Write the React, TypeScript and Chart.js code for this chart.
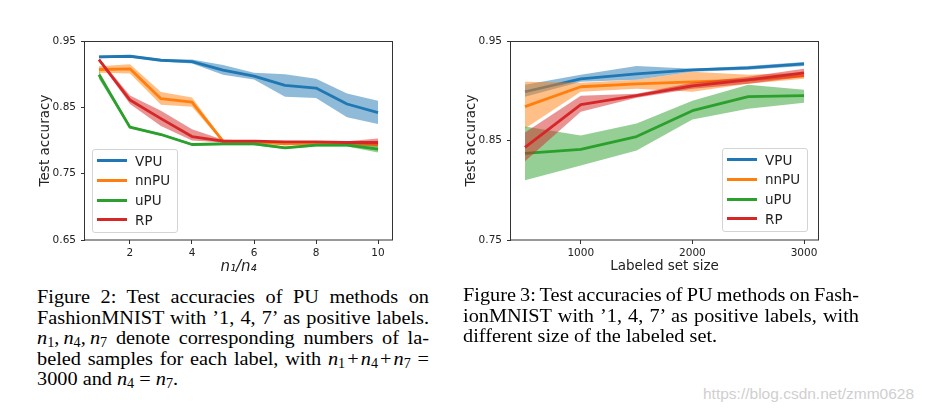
import React, { useEffect, useRef } from "react";
import { Chart, registerables } from "chart.js";
Chart.register(...registerables);

// ---------- shared series info ----------
const seriesNames = ["VPU", "nnPU", "uPU", "RP"];
const seriesColors = ["#1f77b4", "#ff7f0e", "#2ca02c", "#d62728"];
const bandColors = [
  "rgba(31,119,180,0.5)",
  "rgba(255,127,14,0.5)",
  "rgba(44,160,44,0.5)",
  "rgba(214,39,40,0.5)",
];

// ---------- Figure 2: accuracy vs n1/n4 ----------
const ratioX = [1, 2, 3, 4, 5, 6, 7, 8, 9, 10];
const ratioTicks = [2, 4, 6, 8, 10];
const ratioYTicks = [0.65, 0.75, 0.85, 0.95];

const vpuRatioMean = [0.926, 0.927, 0.921, 0.919, 0.906, 0.897, 0.883, 0.879, 0.855, 0.842];
const vpuRatioHigh = [0.928, 0.929, 0.923, 0.922, 0.914, 0.902, 0.900, 0.893, 0.871, 0.860];
const vpuRatioLow = [0.924, 0.925, 0.919, 0.916, 0.899, 0.892, 0.866, 0.864, 0.835, 0.825];

const nnpuRatioMean = [0.907, 0.908, 0.863, 0.858, 0.799, 0.798, 0.795, 0.796, 0.795, 0.794];
const nnpuRatioHigh = [0.912, 0.915, 0.873, 0.865, 0.801, 0.800, 0.797, 0.798, 0.798, 0.798];
const nnpuRatioLow = [0.902, 0.901, 0.854, 0.851, 0.797, 0.796, 0.793, 0.794, 0.792, 0.790];

const upuRatioMean = [0.899, 0.820, 0.809, 0.794, 0.795, 0.795, 0.789, 0.793, 0.793, 0.787];
const upuRatioHigh = [0.905, 0.822, 0.811, 0.796, 0.797, 0.797, 0.791, 0.795, 0.795, 0.792];
const upuRatioLow = [0.893, 0.818, 0.807, 0.792, 0.793, 0.793, 0.787, 0.791, 0.791, 0.782];

const rpRatioMean = [0.922, 0.861, 0.833, 0.806, 0.799, 0.799, 0.798, 0.798, 0.797, 0.797];
const rpRatioHigh = [0.924, 0.868, 0.845, 0.817, 0.801, 0.800, 0.799, 0.799, 0.799, 0.803];
const rpRatioLow = [0.920, 0.855, 0.822, 0.800, 0.797, 0.798, 0.797, 0.797, 0.795, 0.792];

// ---------- Figure 3: accuracy vs labeled set size ----------
const sizeX = [500, 1000, 1500, 2000, 2500, 3000];
const sizeTicks = [1000, 2000, 3000];
const sizeYTicks = [0.75, 0.85, 0.95];

const vpuSizeMean = [0.899, 0.912, 0.917, 0.921, 0.923, 0.927];
const vpuSizeHigh = [0.906, 0.916, 0.925, 0.922, 0.925, 0.929];
const vpuSizeLow = [0.894, 0.909, 0.911, 0.919, 0.921, 0.925];

const nnpuSizeMean = [0.884, 0.904, 0.907, 0.909, 0.911, 0.915];
const nnpuSizeHigh = [0.909, 0.908, 0.911, 0.919, 0.916, 0.918];
const nnpuSizeLow = [0.862, 0.899, 0.902, 0.899, 0.907, 0.912];

const upuSizeMean = [0.837, 0.841, 0.854, 0.880, 0.894, 0.895];
const upuSizeHigh = [0.864, 0.855, 0.867, 0.890, 0.906, 0.901];
const upuSizeLow = [0.810, 0.825, 0.840, 0.871, 0.882, 0.888];

const rpSizeMean = [0.843, 0.886, 0.895, 0.905, 0.911, 0.918];
const rpSizeHigh = [0.858, 0.895, 0.897, 0.908, 0.914, 0.922];
const rpSizeLow = [0.829, 0.879, 0.893, 0.902, 0.907, 0.914];

// ---------- helpers ----------
function buildDatasets(xs: number[], means: number[][], highs: number[][], lows: number[][]) {
  const ds: any[] = [];
  means.forEach((mean, s) => {
    const base = 100 - s * 10;
    ds.push({
      label: seriesNames[s] + " upper",
      data: xs.map((x, i) => ({ x, y: highs[s][i] })),
      borderColor: "transparent",
      borderWidth: 0,
      pointRadius: 0,
      fill: false,
      order: base + 1,
    });
    ds.push({
      label: seriesNames[s] + " lower",
      data: xs.map((x, i) => ({ x, y: lows[s][i] })),
      borderColor: "transparent",
      borderWidth: 0,
      pointRadius: 0,
      fill: "-1",
      backgroundColor: bandColors[s],
      order: base - 1,
    });
    ds.push({
      label: seriesNames[s],
      data: xs.map((x, i) => ({ x, y: mean[i] })),
      borderColor: seriesColors[s],
      borderWidth: 2.8,
      pointRadius: 0,
      fill: false,
      tension: 0,
      borderJoinStyle: "round",
      borderCapStyle: "butt",
      order: base,
    });
  });
  return ds;
}

const framePlugin = {
  id: "frame",
  afterDraw(chart: any) {
    const { ctx, chartArea } = chart;
    const { left, top, right, bottom } = chartArea;
    ctx.save();
    ctx.strokeStyle = "#333";
    ctx.lineWidth = 1;
    ctx.strokeRect(Math.round(left) - 0.5, Math.round(top) + 0.5, Math.round(right - left) + 1, Math.round(bottom - top) - 0.5);
    ctx.restore();
  },
};

const tickFont = { family: "'DejaVu Sans', sans-serif", size: 10.5 };
const titleFont = { family: "'DejaVu Sans', sans-serif", size: 13.5 };

function makeConfig(opts: {
  xs: number[];
  means: number[][];
  highs: number[][];
  lows: number[][];
  xMin: number;
  xMax: number;
  xTicks: number[];
  yMin: number;
  yMax: number;
  yTicks: number[];
  xTitle: string;
  xItalic: boolean;
  yWidth: number;
  yTitlePad: number;
  padRight: number;
}) {
  return {
    type: "line",
    data: { datasets: buildDatasets(opts.xs, opts.means, opts.highs, opts.lows) },
    options: {
      animation: false,
      responsive: false,
      devicePixelRatio: 1,
      events: [],
      layout: { padding: { left: 0, right: opts.padRight, top: 41, bottom: 0 } },
      plugins: { legend: { display: false }, tooltip: { enabled: false } },
      scales: {
        x: {
          type: "linear",
          min: opts.xMin,
          max: opts.xMax,
          afterBuildTicks: (s: any) => {
            s.ticks = opts.xTicks.map((v) => ({ value: v }));
          },
          afterFit: (s: any) => {
            s.height = 45;
          },
          grid: { display: true, drawOnChartArea: false, drawTicks: true, tickLength: 4, tickColor: "#333", color: "#333" },
          border: { display: false },
          ticks: {
            font: tickFont,
            color: "#222",
            padding: 3,
            maxRotation: 0,
            autoSkip: false,
            callback: (v: any) => String(v),
          },
          title: {
            display: true,
            text: opts.xTitle,
            font: opts.xItalic ? { ...titleFont, size: 15, style: "italic" } : titleFont,
            color: "#222",
            padding: { top: 0, bottom: opts.xItalic ? 9 : 10 },
          },
        },
        y: {
          type: "linear",
          min: opts.yMin,
          max: opts.yMax,
          afterBuildTicks: (s: any) => {
            s.ticks = opts.yTicks.map((v) => ({ value: v }));
          },
          afterFit: (s: any) => {
            s.width = opts.yWidth;
          },
          grid: { display: true, drawOnChartArea: false, drawTicks: true, tickLength: 4, tickColor: "#333", color: "#333" },
          border: { display: false },
          ticks: {
            font: tickFont,
            color: "#222",
            padding: 5,
            autoSkip: false,
            callback: (v: any) => Number(v).toFixed(2),
          },
          title: {
            display: true,
            text: "Test accuracy",
            font: titleFont,
            color: "#222",
            padding: { top: opts.yTitlePad, bottom: 0 },
          },
        },
      },
    },
    plugins: [framePlugin],
  } as any;
}

function ChartCanvas({ left, config }: { left: number; config: any }) {
  const ref = useRef<HTMLCanvasElement | null>(null);
  useEffect(() => {
    if (!ref.current) return;
    const chart = new Chart(ref.current, config);
    return () => chart.destroy();
  }, []);
  return (
    <canvas
      ref={ref}
      width={410}
      height={285}
      style={{ position: "absolute", left, top: 0, width: 410, height: 285 }}
    />
  );
}

function Legend({ left, top }: { left: number; top: number }) {
  return (
    <div
      style={{
        position: "absolute",
        left,
        top,
        width: 86,
        height: 84,
        border: "1px solid #d4d4d4",
        borderRadius: 3,
        background: "rgba(255,255,255,0.8)",
        boxSizing: "border-box",
        fontFamily: "'DejaVu Sans', sans-serif",
        fontSize: 13.5,
        color: "#222",
      }}
    >
      {seriesNames.map((n, i) => (
        <div
          key={n}
          style={{
            position: "absolute",
            left: 4,
            top: 0.5 + i * 19.8,
            height: 20,
            display: "flex",
            alignItems: "center",
          }}
        >
          <div style={{ width: 30, height: 3, background: seriesColors[i] }} />
          <div style={{ marginLeft: 8, lineHeight: "20px" }}>{n}</div>
        </div>
      ))}
    </div>
  );
}

const Sub = ({ c }: { c: string }) => (
  <span style={{ fontSize: "0.7em", position: "relative", top: "0.22em" }}>{c}</span>
);
const N = ({ c }: { c: string }) => (
  <span style={{ whiteSpace: "nowrap" }}>
    <i>n</i>
    <Sub c={c} />
  </span>
);

const SCALE_X = 1.04;
const captionBase: React.CSSProperties = {
  position: "absolute",
  fontFamily: "'Liberation Serif', 'Times New Roman', serif",
  fontSize: 19.5,
  lineHeight: "20.5px",
  color: "#000",
  transform: `scaleX(${SCALE_X})`,
  transformOrigin: "0 0",
};
const justLine: React.CSSProperties = {
  textAlign: "justify",
  textAlignLast: "justify",
  height: 20.5,
  wordSpacing: "-3px",
};
const plainLine: React.CSSProperties = { textAlign: "left", height: 20.5 };

export default function App() {
  const leftConfig = makeConfig({
    xs: ratioX,
    means: [vpuRatioMean, nnpuRatioMean, upuRatioMean, rpRatioMean],
    highs: [vpuRatioHigh, nnpuRatioHigh, upuRatioHigh, rpRatioHigh],
    lows: [vpuRatioLow, nnpuRatioLow, upuRatioLow, rpRatioLow],
    xMin: 0.55,
    xMax: 10.45,
    xTicks: ratioTicks,
    yMin: 0.65,
    yMax: 0.95,
    yTicks: ratioYTicks,
    xTitle: "n\u2081/n\u2084",
    xItalic: true,
    yWidth: 85,
    yTitlePad: 37,
    padRight: 18,
  });
  const rightConfig = makeConfig({
    xs: sizeX,
    means: [vpuSizeMean, nnpuSizeMean, upuSizeMean, rpSizeMean],
    highs: [vpuSizeHigh, nnpuSizeHigh, upuSizeHigh, rpSizeHigh],
    lows: [vpuSizeLow, nnpuSizeLow, upuSizeLow, rpSizeLow],
    xMin: 375,
    xMax: 3125,
    xTicks: sizeTicks,
    yMin: 0.75,
    yMax: 0.95,
    yTicks: sizeYTicks,
    xTitle: "Labeled set size",
    xItalic: false,
    yWidth: 86,
    yTitlePad: 38,
    padRight: 17,
  });

  return (
    <div style={{ position: "absolute", left: 0, top: 0, width: 925, height: 413, background: "#fff", overflow: "hidden" }}>
      <ChartCanvas left={0} config={leftConfig} />
      <ChartCanvas left={425} config={rightConfig} />
      <Legend left={92} top={149} />
      <Legend left={722} top={148} />

      <div style={{ ...captionBase, left: 37, top: 287.2, width: 392 / SCALE_X }}>
        <div style={justLine}>Figure 2: Test accuracies of PU methods on</div>
        <div style={justLine}>FashionMNIST with ’1, 4, 7’ as positive labels.</div>
        <div style={justLine}>
          <span style={{ whiteSpace: "nowrap", wordSpacing: 0 }}>
            <N c="1" />,<span style={{ marginLeft: 4 }} />
            <N c="4" />,<span style={{ marginLeft: 4 }} />
            <N c="7" />
          </span>{" "}
          denote corresponding numbers of la-
        </div>
        <div style={justLine}>
          beled samples for each label, with{" "}
          <span style={{ whiteSpace: "nowrap" }}>
            <N c="1" />
            <span style={{ margin: "0 2px" }}>+</span>
            <N c="4" />
            <span style={{ margin: "0 2px" }}>+</span>
            <N c="7" />
          </span>{" "}
          =
        </div>
        <div style={plainLine}>
          3000 and <N c="4" /> = <N c="7" />.
        </div>
      </div>

      <div style={{ ...captionBase, left: 463, top: 285.2, width: 396 / SCALE_X }}>
        <div style={justLine}>Figure 3: Test accuracies of PU methods on Fash-</div>
        <div style={justLine}>ionMNIST with ’1, 4, 7’ as positive labels, with</div>
        <div style={plainLine}>different size of the labeled set.</div>
      </div>

      <div
        style={{
          position: "absolute",
          left: 703,
          top: 385.6,
          fontFamily: "'Liberation Sans', Arial, sans-serif",
          fontSize: 15.5,
          lineHeight: "16px",
          color: "#cfcfcf",
          whiteSpace: "nowrap",
        }}
      >
        https://blog.csdn.net/zmm0628
      </div>
    </div>
  );
}
